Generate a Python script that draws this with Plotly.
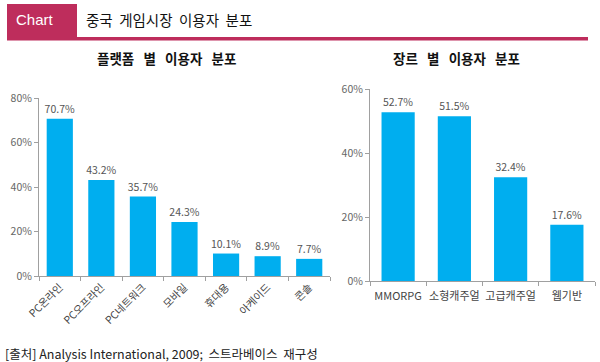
import plotly.graph_objects as go

W, H = 600, 362

platform_cats = ["PC온라인", "PC오프라인", "PC네트워크", "모바일", "휴대용", "아케이드", "콘솔"]
platform_vals = [70.7, 43.2, 35.7, 24.3, 10.1, 8.9, 7.7]

genre_cats = ["MMORPG", "소형캐주얼", "고급캐주얼", "웹기반"]
genre_vals = [52.7, 51.5, 32.4, 17.6]

left_ticks = [0, 20, 40, 60, 80]
left_tick_text = ["0%", "20%", "40%", "60%", "80%"]
right_ticks = [0, 20, 40, 60]
right_tick_text = ["0%", "20%", "40%", "60%"]

BAR = "#00AEEF"
RED = "#BE2D5C"
KFONT = "Noto Sans CJK KR"
SP = "\u00a0"


def px(x):
    return x / W


def py(y):
    return 1 - y / H


def spaced(s, n=2):
    return (SP * n).join(s.split(" "))


fig = go.Figure()

fig.add_trace(go.Bar(
    x=platform_cats, y=platform_vals, xaxis="x", yaxis="y",
    marker=dict(color=BAR, line=dict(width=0)), width=0.63,
    text=[f"{v:.1f}%" for v in platform_vals], textposition="outside",
    constraintext="none",
    textfont=dict(family=KFONT, size=10.5, color="#555"), cliponaxis=False,
    showlegend=False, hoverinfo="skip",
))
fig.add_trace(go.Bar(
    x=genre_cats, y=genre_vals, xaxis="x2", yaxis="y2",
    marker=dict(color=BAR, line=dict(width=0)), width=0.59,
    text=[f"{v:.1f}%" for v in genre_vals], textposition="outside",
    constraintext="none",
    textfont=dict(family=KFONT, size=10.5, color="#555"), cliponaxis=False,
    showlegend=False, hoverinfo="skip",
))

axis_common = dict(showgrid=False, zeroline=False, showline=True, linecolor="#A0A0A0",
                   linewidth=1, ticks="outside", ticklen=4, tickcolor="#A0A0A0",
                   automargin=False)

fig.update_layout(
    width=W, height=H, margin=dict(l=0, r=0, t=0, b=0, autoexpand=False),
    paper_bgcolor="white", plot_bgcolor="white",
    font=dict(family=KFONT, color="#555"),
    xaxis=dict(domain=[px(39), px(330)], anchor="y", type="category",
               tickson="boundaries", tickangle=-45,
               tickfont=dict(family=KFONT, size=10.5, color="#444"), **axis_common),
    yaxis=dict(domain=[py(276), py(98)], anchor="x", range=[0, 80],
               tickvals=left_ticks, ticktext=left_tick_text,
               tickfont=dict(family=KFONT, size=10.5, color="#666"), **axis_common),
    xaxis2=dict(domain=[px(370), px(595)], anchor="y2", type="category",
                tickson="boundaries", tickangle=0, ticklabelstandoff=5,
                tickfont=dict(family=KFONT, size=11, color="#444"), **axis_common),
    yaxis2=dict(domain=[py(281), py(89)], anchor="x2", range=[0, 60],
                tickvals=right_ticks, ticktext=right_tick_text,
                tickfont=dict(family=KFONT, size=10.5, color="#666"), **axis_common),
)

shapes = [
    dict(type="rect", xref="paper", yref="paper", x0=px(7), x1=px(77), y0=py(37), y1=py(4),
         fillcolor=RED, line=dict(width=0), layer="below"),
    dict(type="rect", xref="paper", yref="paper", x0=px(7), x1=px(588), y0=py(40.5), y1=py(37),
         fillcolor=RED, line=dict(width=0), layer="below"),
]
fig.update_layout(shapes=shapes)

annotations = [
    dict(text="Chart", x=px(14), y=py(20), xref="paper", yref="paper", xanchor="left",
         yanchor="middle", showarrow=False,
         font=dict(family="Liberation Sans", size=15, color="white")),
    dict(text=spaced("중국 게임시장 이용자 분포"), x=px(84), y=py(20), xref="paper", yref="paper",
         xanchor="left", yanchor="middle", showarrow=False,
         font=dict(family=KFONT, size=14.5, color="#111")),
    dict(text="<b>" + spaced("플랫폼 별 이용자 분포", 3) + "</b>", x=px(166), y=py(58),
         xref="paper", yref="paper",
         xanchor="center", yanchor="middle", showarrow=False,
         font=dict(family=KFONT, size=13.5, color="#111")),
    dict(text="<b>" + spaced("장르 별 이용자 분포", 3) + "</b>", x=px(456), y=py(58),
         xref="paper", yref="paper",
         xanchor="center", yanchor="middle", showarrow=False,
         font=dict(family=KFONT, size=13.5, color="#111")),
    dict(text="[출처] Analysis International, 2009;" + SP * 2 + spaced("스트라베이스 재구성"),
         x=px(3), y=py(353),
         xref="paper", yref="paper", xanchor="left", yanchor="middle", showarrow=False,
         font=dict(family=KFONT, size=12.5, color="#222")),
]
fig.update_layout(annotations=annotations)

fig.write_html("out.html", config={"displayModeBar": False},
               post_script="document.body.style.margin='0px';document.body.style.padding='0px';")
